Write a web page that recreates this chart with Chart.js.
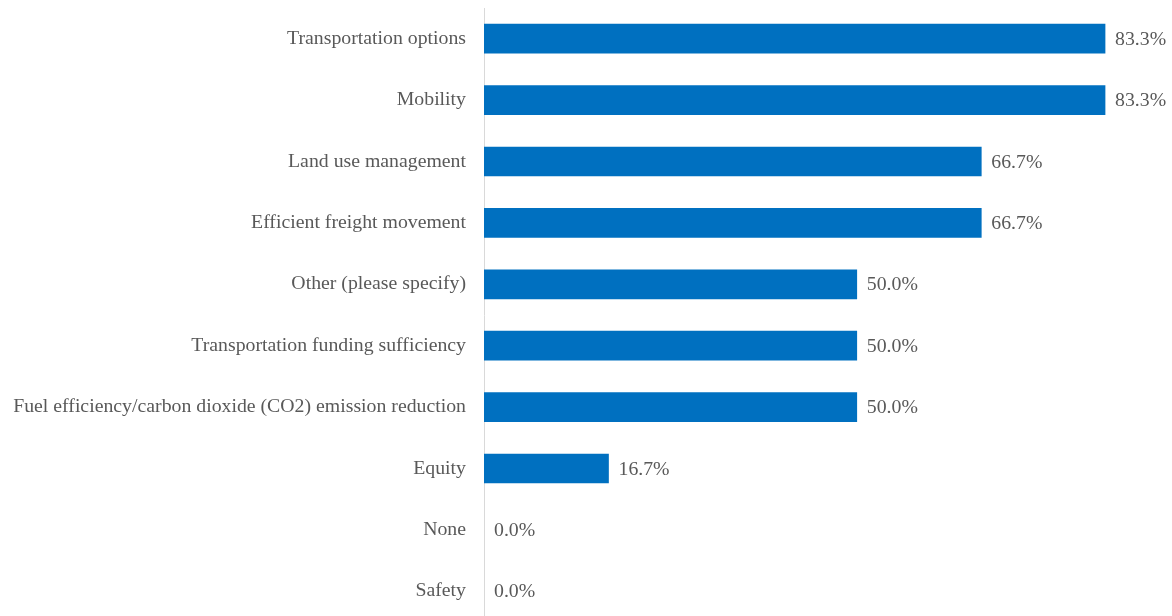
<!DOCTYPE html>
<html>
<head>
<meta charset="utf-8">
<script src="https://cdn.jsdelivr.net/npm/chart.js@4/dist/chart.umd.min.js"></script>
<style>
  html, body { margin: 0; padding: 0; background: #fff; overflow: hidden; }
  #wrap { position: relative; width: 1172px; height: 622px; }
</style>
</head>
<body>
<div id="wrap"><canvas id="grafica"></canvas></div>
<script>
// Datos de la grafica

const categorias = [
  'Transportation options',
  'Mobility',
  'Land use management',
  'Efficient freight movement',
  'Other (please specify)',
  'Transportation funding sufficiency',
  'Fuel efficiency/carbon dioxide (CO2) emission reduction',
  'Equity',
  'None',
  'Safety'
];
const porcentajes = [83.3, 83.3, 66.7, 66.7, 50.0, 50.0, 50.0, 16.7, 0.0, 0.0];

const fuente = '"Palatino Linotype", "Book Antiqua", Palatino, "Liberation Serif", serif';
const gris = '#595959';

// Etiquetas de valor al final de cada barra
const etiquetas = {
  id: 'etiquetas',
  afterDatasetsDraw(chart) {
    const ctx = chart.ctx;
    const meta = chart.getDatasetMeta(0);
    ctx.save();
    ctx.font = '19.8px ' + fuente;
    ctx.fillStyle = gris;
    ctx.textAlign = 'left';
    ctx.textBaseline = 'middle';
    meta.data.forEach((bar, i) => {
      ctx.fillText(porcentajes[i].toFixed(1) + '%', bar.x + 10, bar.y + 1);
    });
    ctx.restore();
  }
};

const data = {
  labels: categorias,
  datasets: [{
    data: porcentajes,
    // las barras en 0 no se pintan
    backgroundColor: porcentajes.map(v => v > 0 ? '#0070C0' : 'rgba(0,0,0,0)'),
    borderWidth: 0,
    barThickness: 29
  }]
};

const config = {
  type: 'bar',
  data,
  options: {
    indexAxis: 'y',
    responsive: true,
    maintainAspectRatio: false,
    animation: false,
    layout: { padding: { top: 8, right: 17, bottom: 0, left: 0 } },
    plugins: {
      legend: { display: false },
      tooltip: { enabled: false }
    },
    scales: {
      x: {
        display: false,
        min: 0,
        max: 90
      },
      y: {
        grid: { display: false, drawTicks: false },
        border: { display: true, color: '#d9d9d9', width: 1 },
        ticks: {
          color: gris,
          padding: 18,
          font: { family: fuente, size: 19.8 }
        },
        afterFit(scale) {
          // ancho fijo del eje y sin relleno extra arriba/abajo
          scale.width = 484;
          scale.paddingTop = 0;
          scale.paddingBottom = 0;
        }
      }
    }
  },
  plugins: [etiquetas]
};

new Chart(document.getElementById('grafica'), config);
</script>
</body>
</html>
